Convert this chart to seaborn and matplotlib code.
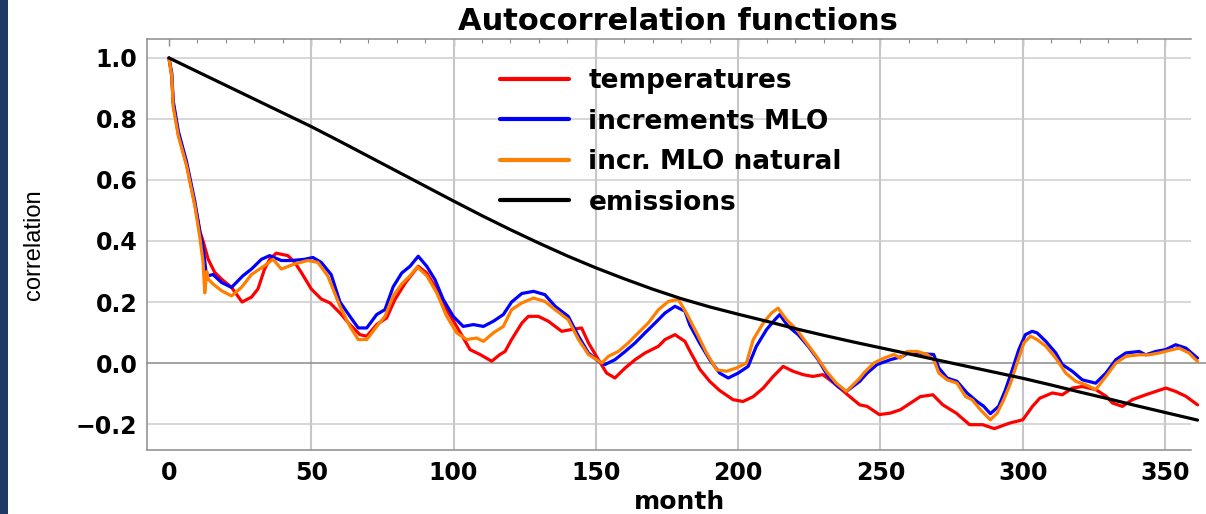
import matplotlib
matplotlib.use("Agg")
import matplotlib.pyplot as plt
import seaborn as sns
import pandas as pd
from matplotlib.ticker import MultipleLocator
from matplotlib.patches import Rectangle

# ---------------- data ----------------
temp_month = [0, 1, 1.5, 3.3, 6.2, 9.1, 10.9, 12, 13.8, 16.1, 18.5, 22, 25.7, 29, 31.3, 33.6,
              35.4, 37.7, 41.8, 44.2, 46.5, 50, 53.5, 56.6, 60.1, 63.6, 67.1, 69.5, 73, 76.5,
              79.4, 83, 87.6, 90.6, 94.1, 97.6, 101.1, 105.8, 109.3, 113.4, 116.3, 118.1, 120.4,
              124, 126.3, 129.8, 133.3, 138, 141.5, 145, 147.4, 150.9, 153.8, 156.7, 160.3, 163.8,
              167.3, 172, 174.3, 177.8, 181.3, 183, 186.5, 190, 193.5, 198.2, 201.7, 205.3, 208.8,
              212.3, 215.8, 219.3, 222.8, 226.3, 229.7, 232.2, 235.7, 239.2, 242.7, 245.3, 249.6,
              253.5, 257, 261.4, 264, 268.4, 271.9, 276.6, 281.3, 285.9, 290, 295.3, 300, 303.4,
              306, 310.4, 313.9, 317.4, 320.9, 325.6, 329.3, 331.5, 335, 338.5, 343.2, 346.7,
              350.3, 353.7, 357.3, 361.4]
temp_vals = [1.0, 0.94, 0.85, 0.75, 0.65, 0.52, 0.43, 0.40, 0.34, 0.297, 0.275, 0.248, 0.20, 0.216,
             0.243, 0.308, 0.34, 0.36, 0.352, 0.33, 0.297, 0.243, 0.21, 0.197, 0.164, 0.126, 0.093,
             0.088, 0.126, 0.148, 0.208, 0.262, 0.317, 0.295, 0.241, 0.175, 0.12, 0.044, 0.028,
             0.006, 0.028, 0.038, 0.077, 0.131, 0.153, 0.153, 0.137, 0.104, 0.11, 0.115, 0.066,
             0.011, -0.033, -0.049, -0.016, 0.011, 0.033, 0.055, 0.077, 0.093, 0.071, 0.04, -0.02,
             -0.06, -0.09, -0.12, -0.126, -0.11, -0.082, -0.044, -0.011, -0.027, -0.038, -0.044,
             -0.038, -0.055, -0.082, -0.11, -0.137, -0.142, -0.169, -0.164, -0.153, -0.126, -0.11,
             -0.104, -0.137, -0.164, -0.202, -0.202, -0.215, -0.197, -0.186, -0.142, -0.115,
             -0.098, -0.104, -0.082, -0.077, -0.087, -0.109, -0.131, -0.142, -0.12, -0.104,
             -0.093, -0.082, -0.093, -0.109, -0.137]

mlo_month = [0, 1, 1.5, 3.3, 6.2, 9.1, 10.9, 12, 13.2, 15.5, 18.5, 22, 26, 29, 32.5, 35.4, 39.5,
             43, 47.7, 50.6, 53.5, 57, 60.1, 63.6, 66.5, 69.5, 73, 75.9, 78.8, 81.8, 84.7, 87.6,
             90.6, 93.5, 96.4, 99.9, 103.4, 107, 110.5, 114, 117.5, 120.4, 124, 128.1, 132.1,
             135.7, 140.3, 143.9, 147.4, 150.9, 153.2, 156.7, 160.3, 163.8, 167.3, 170.8, 174.3,
             177.8, 181.3, 183, 186.5, 190, 193.5, 196.5, 200, 203.5, 206.4, 210, 212.9, 214.6,
             217.6, 221.1, 224.6, 228.1, 231.6, 235.1, 238, 242.7, 245.3, 248.8, 253.5, 257.8,
             260.5, 265.2, 268.7, 270.5, 273.4, 276.9, 280.4, 283.9, 286.3, 288.6, 291.5, 293.9,
             296.3, 298.6, 300.9, 303.3, 305, 308.1, 311.6, 313.9, 317.4, 320.9, 325.6, 329.2,
             332.7, 336.2, 340.9, 343.2, 346.7, 350.2, 353.7, 357.3, 361.4]
mlo_vals = [1.0, 0.95, 0.86, 0.76, 0.66, 0.53, 0.43, 0.38, 0.285, 0.29, 0.264, 0.248, 0.286, 0.308,
            0.34, 0.352, 0.336, 0.336, 0.34, 0.346, 0.33, 0.29, 0.2, 0.153, 0.115, 0.115, 0.159,
            0.175, 0.25, 0.295, 0.317, 0.35, 0.317, 0.273, 0.208, 0.153, 0.12, 0.126, 0.12, 0.137,
            0.159, 0.2, 0.228, 0.235, 0.224, 0.186, 0.153, 0.088, 0.033, 0.006, -0.005, 0.011,
            0.038, 0.066, 0.099, 0.131, 0.164, 0.186, 0.17, 0.125, 0.065, 0.011, -0.033, -0.049,
            -0.033, -0.011, 0.055, 0.11, 0.142, 0.159, 0.12, 0.093, 0.055, 0.011, -0.044, -0.077,
            -0.093, -0.06, -0.033, -0.005, 0.011, 0.022, 0.038, 0.03, 0.028, -0.016, -0.049,
            -0.06, -0.098, -0.126, -0.142, -0.166, -0.142, -0.088, -0.022, 0.044, 0.093, 0.104,
            0.099, 0.071, 0.033, -0.005, -0.027, -0.055, -0.066, -0.033, 0.011, 0.033, 0.038,
            0.027, 0.038, 0.044, 0.06, 0.049, 0.016]

nat_month = [0, 1, 1.5, 3.3, 6.2, 9.1, 10.9, 12, 12.6, 13.3, 13.8, 15.5, 18.5, 22, 25.5, 29, 33.6,
             36.6, 39.5, 44.2, 48.8, 52.3, 55.8, 58.2, 60.1, 63.6, 66.5, 69.5, 73, 75.9, 78.8,
             81.8, 84.7, 87.3, 90.6, 94.1, 97.6, 101.1, 104.6, 108.1, 110.5, 114, 117.5, 120.4,
             124, 128.1, 132.1, 135.7, 140.3, 143.9, 147.4, 152.1, 154.4, 157.9, 161.4, 164.9,
             168.4, 172, 175.5, 179, 181.8, 185.4, 188.9, 192.4, 195.9, 199.4, 202.9, 205.3,
             208.8, 211.7, 214, 217, 220.5, 224, 227.5, 231, 234.5, 238, 242.7, 244.1, 247.7,
             251.2, 254.7, 257, 259.4, 262.9, 266.4, 268.7, 270.5, 273.4, 276.9, 279.9, 282.2,
             285.1, 288.6, 291, 293.3, 295.7, 298, 300.4, 302.7, 305, 308.1, 311.6, 315.1, 318.6,
             322.1, 325.6, 329.2, 332.7, 336.2, 340.9, 344.4, 347.9, 352.6, 354.9, 358.4, 361.4]
nat_vals = [1.0, 0.94, 0.84, 0.745, 0.647, 0.516, 0.41, 0.33, 0.23, 0.30, 0.275, 0.259, 0.237, 0.22,
            0.248, 0.29, 0.319, 0.34, 0.308, 0.325, 0.336, 0.33, 0.286, 0.23, 0.186, 0.12, 0.077,
            0.077, 0.12, 0.153, 0.22, 0.259, 0.286, 0.315, 0.286, 0.23, 0.153, 0.099, 0.077,
            0.082, 0.071, 0.099, 0.12, 0.175, 0.197, 0.213, 0.202, 0.175, 0.142, 0.077, 0.028,
            0.0, 0.022, 0.038, 0.066, 0.099, 0.131, 0.175, 0.202, 0.208, 0.164, 0.099, 0.033,
            -0.022, -0.027, -0.016, 0.0, 0.077, 0.131, 0.164, 0.18, 0.142, 0.11, 0.066, 0.022,
            -0.027, -0.066, -0.093, -0.05, -0.033, 0.0, 0.016, 0.028, 0.016, 0.038, 0.038, 0.028,
            0.011, -0.033, -0.055, -0.066, -0.11, -0.12, -0.153, -0.186, -0.164, -0.12, -0.066,
            0.0, 0.066, 0.088, 0.077, 0.055, 0.016, -0.033, -0.06, -0.071, -0.087, -0.044, 0.0,
            0.022, 0.027, 0.027, 0.033, 0.044, 0.049, 0.033, 0.005]

emis_month = [0, 10, 20, 30, 40, 50, 60, 70, 80, 90, 100, 110, 120, 130, 140, 150, 160, 170, 180,
              190, 200, 210, 220, 230, 240, 250, 260, 270, 280, 290, 300, 310, 320, 330, 340, 350,
              361.4]
emis_vals = [1.0, 0.955, 0.91, 0.865, 0.82, 0.775, 0.727, 0.678, 0.629, 0.58, 0.531, 0.483, 0.437,
             0.393, 0.351, 0.312, 0.276, 0.242, 0.211, 0.184, 0.16, 0.137, 0.113, 0.091, 0.07,
             0.05, 0.03, 0.01, -0.01, -0.03, -0.05, -0.072, -0.095, -0.117, -0.14, -0.162, -0.187]

series_names = ["temperatures", "increments MLO", "incr. MLO natural", "emissions"]
series_colors = ["#ff0000", "#0000ff", "#ff8000", "#000000"]

x_ticks = [0, 50, 100, 150, 200, 250, 300, 350]
y_ticks = [-0.2, 0.0, 0.2, 0.4, 0.6, 0.8, 1.0]

# ---------------- build dataframe ----------------
frames = []
for name, m, v in zip(series_names,
                      [temp_month, mlo_month, nat_month, emis_month],
                      [temp_vals, mlo_vals, nat_vals, emis_vals]):
    frames.append(pd.DataFrame({"month": m, "correlation": v, "series": name}))
df = pd.concat(frames, ignore_index=True)

# ---------------- figure ----------------
sns.set_style("white")
plt.rcParams["font.family"] = ["DejaVu Sans"]
plt.rcParams["text.color"] = "black"
plt.rcParams["axes.labelcolor"] = "black"
plt.rcParams["xtick.labelcolor"] = "black"
plt.rcParams["ytick.labelcolor"] = "black"

W, H = 1206, 514
fig = plt.figure(figsize=(W / 100, H / 100), dpi=100)
fig.patch.set_facecolor("white")
ax_l, ax_r, ax_t, ax_b = 147, 1191, 39, 450
ax = fig.add_axes([ax_l / W, 1 - ax_b / H, (ax_r - ax_l) / W, (ax_b - ax_t) / H])

# left dark stripe
fig.add_artist(Rectangle((0, 0), 8 / W, 1, transform=fig.transFigure,
                         facecolor="#1f3864", edgecolor="none", zorder=0))

sns.lineplot(data=df, x="month", y="correlation", hue="series", hue_order=series_names,
             palette=series_colors, estimator=None, sort=False, linewidth=2.3,
             ax=ax, zorder=5)
for ln in ax.lines:
    ln.set_clip_on(False)

ax.set_xlim(-7.7, 359.1)
ax.set_ylim(-0.285, 1.062)

# grid
for xv in x_ticks[1:]:
    ax.axvline(xv, color="#c6c6c6", lw=1.5, zorder=1)
for yv in y_ticks:
    if yv != 0:
        ax.axhline(yv, color="#cdcdcd", lw=1.1, zorder=1)
ax.axhline(0, xmin=0, xmax=(W - ax_l) / (ax_r - ax_l), color="#8a8a8a", lw=1.1,
           clip_on=False, zorder=2)

# ticks
ax.set_xticks(x_ticks, [str(t) for t in x_ticks], fontsize=17, fontweight="bold", color="black")
ax.set_yticks(y_ticks, [f"{t:.1f}".replace("-", "\u2212") for t in y_ticks],
              fontsize=17, fontweight="bold", color="black")
ax.xaxis.set_minor_locator(MultipleLocator(10))
ax.yaxis.set_minor_locator(MultipleLocator(0.05))
ax.tick_params(which="both", direction="in", top=True, right=False, color="#8c8c8c")
ax.tick_params(which="major", length=5, width=1)
ax.tick_params(which="minor", length=3, width=0.8)
ax.tick_params(axis="x", which="major", pad=8)
ax.tick_params(axis="y", which="major", pad=7)

for side in ["top", "left", "bottom"]:
    ax.spines[side].set_color("#8c8c8c")
    ax.spines[side].set_linewidth(1.1)
ax.spines["right"].set_visible(False)

# labels
ax.set_xlabel("month", fontsize=18, fontweight="bold", va="top", color="black")
ax.xaxis.set_label_coords((680 - ax_l) / (ax_r - ax_l), (ax_b - 490) / (ax_b - ax_t))
ax.set_ylabel("correlation", fontsize=17, family=["Liberation Sans", "DejaVu Sans"], color="black")
ax.yaxis.set_label_coords((45 - ax_l) / (ax_r - ax_l), (ax_b - 245) / (ax_b - ax_t))

fig.text(678 / W, 1 - 22 / H, "Autocorrelation functions", ha="center", va="center",
         fontsize=22, fontweight="bold", color="black")

# legend
handles, labels = ax.get_legend_handles_labels()
leg = ax.legend(handles, labels, loc="upper left",
                bbox_to_anchor=((500 - ax_l) / (ax_r - ax_l), 1 - (68 - ax_t) / (ax_b - ax_t)),
                frameon=False, prop={"weight": "bold", "size": 19},
                handlelength=2.6, handletextpad=0.75, labelspacing=0.55,
                borderpad=0, borderaxespad=0)
for h in leg.legend_handles:
    h.set_linewidth(3)
for t in leg.get_texts():
    t.set_color("black")

fig.savefig("out.png", dpi=100, facecolor="white")
